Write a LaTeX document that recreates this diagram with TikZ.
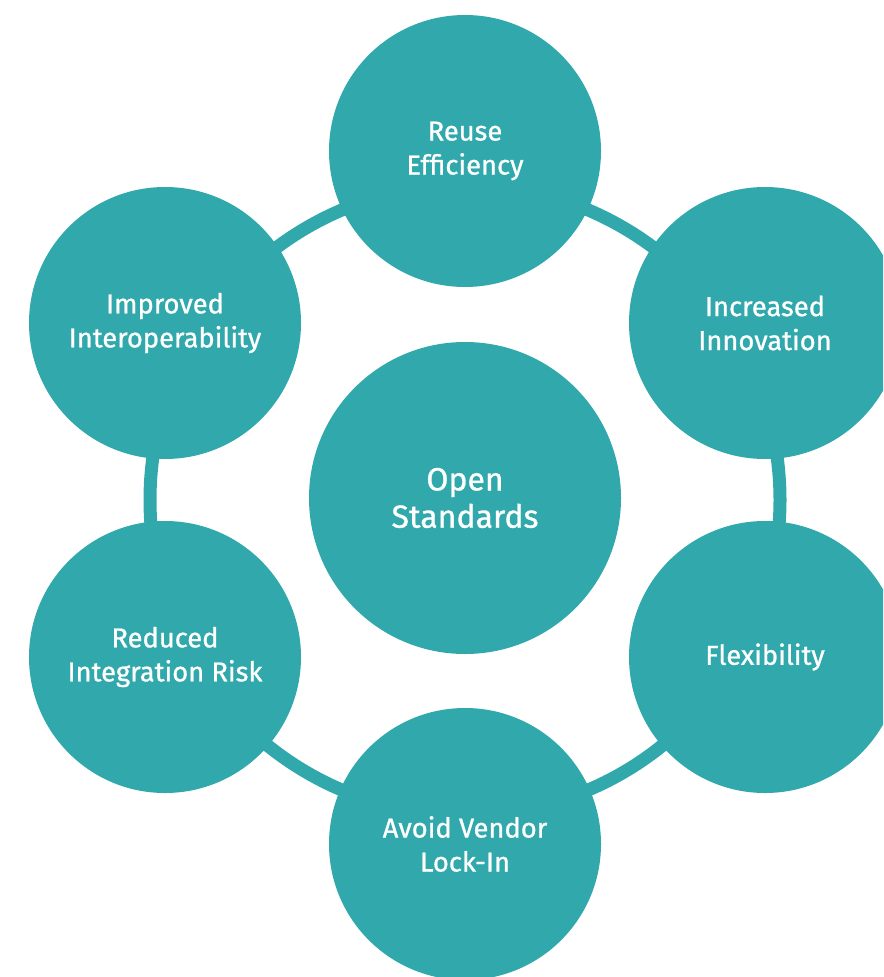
\documentclass[tikz,border=0pt]{standalone}
\usepackage{fontspec}
\setmainfont{Fira Sans}
\newfontfamily\labelfont{Fira Sans}[RawFeature={embolden=0.9}]
\definecolor{ringteal}{RGB}{49,169,172}
\tikzset{
  petal/.style={shape=circle, fill=ringteal, text=white, inner sep=0pt,
    minimum size=204pt, align=center,
    font=\labelfont\fontsize{20.5}{25.5}\selectfont},
  hub/.style={petal, minimum size=234pt,
    font=\labelfont\fontsize{24}{28}\selectfont}
}
\begin{document}
\begin{tikzpicture}[x=0.75pt,y=-0.75pt]
\useasboundingbox (0,0) rectangle (883,977);
\clip (0,0) rectangle (883,977);
\coordinate (O) at (465,500);
\draw[ringteal, line width=9.75pt] (O) circle (315);
\node[hub] (hub) at (465,498) {Open\\Standards};
\node[petal] (reuse) at (465,151) {Reuse\\Efficiency};
\node[petal] (innov) at (765,323) {Increased\\Innovation};
\node[petal] (flex) at (765,657) {Flexibility};
\node[petal] (lockin) at (465,844) {Avoid Vendor\\Lock-In};
\node[petal] (risk) at (165,657) {Reduced\\Integration Risk};
\node[petal] (interop) at (165,323) {Improved\\Interoperability};
\end{tikzpicture}
\end{document}
